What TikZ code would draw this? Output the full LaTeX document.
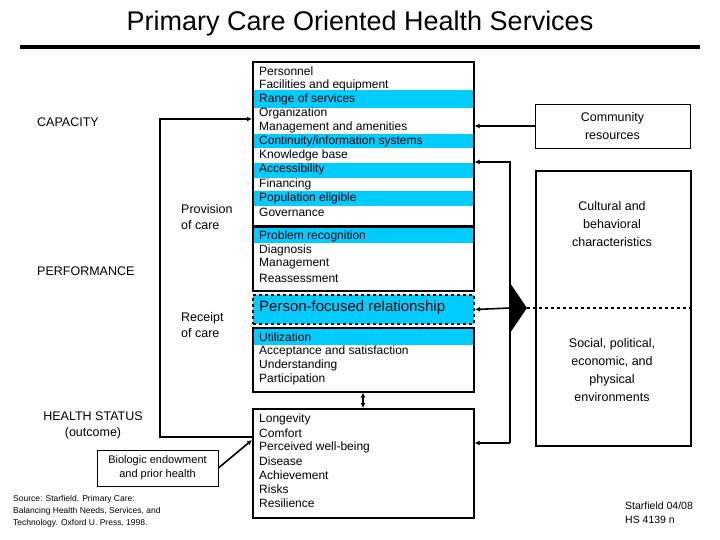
\documentclass[tikz,border=0pt]{standalone}
\usepackage{fontspec}
\setmainfont{Liberation Sans}
\usetikzlibrary{arrows.meta}
\definecolor{cy}{RGB}{0,204,255}
\begin{document}
\begin{tikzpicture}[x=1pt,y=-1pt,
  lst/.style={anchor=west,font=\fontsize{12}{14}\selectfont,inner sep=0pt},
  lbl/.style={font=\fontsize{12.5}{16}\selectfont,align=left,inner sep=0pt},
  box/.style={draw,line width=1.6pt},
  band/.style={fill=cy},
  arr/.style={line width=1.6pt,-{Latex[length=5pt,width=5pt]}},
  bx/.style={draw,line width=0.8pt,align=center,font=\fontsize{12.5}{18}\selectfont}]
\useasboundingbox (0,0) rectangle (720,540);
\node[font=\fontsize{27}{30}\selectfont] (title) at (360,24) {Primary Care Oriented Health Services};
\draw[line width=4pt] (20,47) -- (700,47);
% bands
\foreach \a/\b in {90/108,134/148,163/178,191/206,228/243,329/345}{\fill[band] (252,\a) rectangle (473,\b);}
\node[box,minimum width=221,minimum height=164,anchor=north west] (b1) at (252,61) {};
\node[box,minimum width=221,minimum height=64,anchor=north west] (b2) at (252,226) {};
\node[draw,dashed,line width=2pt,fill=cy,minimum width=221,minimum height=29,anchor=north west] (b5) at (252,294) {};
\node[box,minimum width=221,minimum height=64,anchor=north west] (b3) at (252,327) {};
\node[box,minimum width=221,minimum height=109,anchor=north west] (b4) at (252,408) {};
\foreach \t [count=\i] in {Personnel,Facilities and equipment,Range of services,Organization,Management and amenities,Continuity/information systems,Knowledge base,Accessibility,Financing,Population eligible,Governance}{\node[lst] at (259,57+14.1*\i) {\t};}
\foreach \t [count=\i] in {Problem recognition,Diagnosis,Management,Reassessment}{\node[lst] at (259,222+14*\i) {\t};}
\node[lst,font=\fontsize{15}{18}\selectfont] at (259,308) {Person-focused relationship};
\foreach \t [count=\i] in {Utilization,Acceptance and satisfaction,Understanding,Participation}{\node[lst] at (259,323+14*\i) {\t};}
\foreach \t [count=\i] in {Longevity,Comfort,Perceived well-being,Disease,Achievement,Risks,Resilience}{\node[lst] at (259,405+14*\i) {\t};}
% left labels
\node[lbl,anchor=west] (cap) at (37,122) {CAPACITY};
\node[lbl,anchor=west] (perf) at (37,271) {PERFORMANCE};
\node[lbl,align=center] (hs) at (93,425) {HEALTH STATUS\\(outcome)};
\node[lbl,anchor=west] (prov) at (181,217) {Provision\\of care};
\node[lbl,anchor=west] (rec) at (181,325) {Receipt\\of care};
\node[bx,font=\fontsize{11}{14}\selectfont,minimum width=121,minimum height=36,inner sep=2pt] (bio) at (157.5,468) {Biologic endowment\\and prior health};
\node[anchor=north west,align=left,inner sep=0pt,font=\fontsize{8.5}{12}\selectfont] (src) at (13,495) {Source: Starfield. Primary Care:\\Balancing Health Needs, Services, and\\Technology. Oxford U. Press, 1998.};
\coordinate (l1) at (160,437);
\coordinate (l2) at (160,119);
\draw[arr] (b4.west |- l1) -- (l1) -- (l2) -- (b1.west |- l2);
\draw[arr] (bio.east) -- (252,440);
\draw[line width=1.6pt,{Latex[length=5pt,width=5pt]}-{Latex[length=5pt,width=5pt]}] (b3.south -| 363,0) -- (b4.north -| 363,0);
% right
\node[bx,minimum width=155,minimum height=44] (com) at (612.5,126) {Community\\resources};
\draw[arr] (com.west) -- (b1.east |- com.west);
\node[draw,line width=1.6pt,minimum width=155,minimum height=275,anchor=north west] (big) at (535,170) {};
\node[align=center,font=\fontsize{12.5}{18}\selectfont] (cul) at (612,224) {Cultural and\\behavioral\\characteristics};
\node[align=center,font=\fontsize{12.5}{18}\selectfont] (soc) at (612,370) {Social, political,\\economic, and\\physical\\environments};
\coordinate (r1) at (510,162);
\coordinate (r2) at (510,443);
\coordinate (r3) at (510,308);
\draw[arr] (r2) -- (b4.east |- r2);
\draw[arr] (r2) -- (r1) -- (b1.east |- r1);
\draw[arr] (r3) -- (b5.east);
\fill (510,283) -- (527,308) -- (510,333) -- cycle;
\draw[dashed,line width=2pt] (527,308) -- (690,308);
\node[anchor=north west,align=left,inner sep=0pt,font=\fontsize{10.5}{14}\selectfont] (sf) at (625,502) {Starfield 04/08\\HS 4139 n};
\end{tikzpicture}
\end{document}
